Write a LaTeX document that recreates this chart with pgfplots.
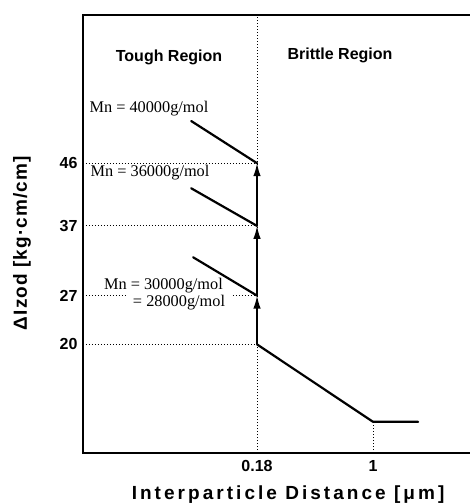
\documentclass[border=0pt]{standalone}
\usepackage{fontspec}
\setmainfont{Liberation Serif}
\setsansfont{Liberation Sans}
\usepackage{pgfplots}
\pgfplotsset{compat=1.18}
\usetikzlibrary{arrows.meta}

\tikzset{
  curve/.style={line width=2.2pt, line cap=round},
  guide/.style={line width=0.9pt, dash pattern=on 1pt off 2pt},
  up/.style={line width=1.5pt, -{Latex[length=13pt,width=7.5pt]}},
  mn/.style={font=\fontsize{16.3}{18}\selectfont},
  bsf/.style={font=\sffamily\bfseries\fontsize{16}{19}\selectfont},
}

\begin{document}
\begin{tikzpicture}
\begin{axis}[
    name=ax,
    scale only axis,
    width=392pt, height=438pt,
    xmode=log,
    xmin=0.01373, xmax=4.52,
    ymin=4.42, ymax=67.26,
    xtick={0.18,1}, xticklabels={0.18,1},
    ytick={20,27,37,46}, yticklabels={20,27,37,46},
    major tick length=0pt,
    tick label style={font=\sffamily\bfseries\fontsize{16}{19}\selectfont},
    xticklabel style={yshift=-4pt},
    yticklabel style={xshift=-2pt},
    axis line style={line width=1.3pt},
    clip=false,
]
% guide lines
\addplot[guide] coordinates {(0.18,4.42) (0.18,67.26)};
\addplot[guide] coordinates {(1,4.42) (1,8.9)};
\addplot[guide] coordinates {(0.01373,46) (0.18,46)};
\addplot[guide] coordinates {(0.01373,37) (0.18,37)};
\addplot[guide] coordinates {(0.01373,20) (0.18,20)};
\addplot[guide] coordinates {(0.01373,27) (0.0263,27)};
\addplot[guide] coordinates {(0.126,27) (0.18,27)};

% brittle branch
\addplot[curve, line join=round] coordinates {(0.18,20) (1,8.9) (1.95,8.9)};

% molecular weight branches
\addplot[curve] coordinates {(0.068,52.05) (0.18,46)};
\addplot[curve] coordinates {(0.068,42.4) (0.18,37)};
\addplot[curve] coordinates {(0.070,32.5) (0.18,27)};

% upward shifts
\addplot[up] coordinates {(0.18,20) (0.18,27)};
\addplot[up] coordinates {(0.18,27) (0.18,37)};
\addplot[up] coordinates {(0.18,37) (0.18,46)};

\node[mn] at (axis cs:0.0364,53.9) {Mn = 40000g/mol};
\node[mn] at (axis cs:0.037,44.59) {Mn = 36000g/mol};
\node[mn] at (axis cs:0.0451,28.38) {Mn = 30000g/mol};
\node[mn] at (axis cs:0.0568,25.94) {= 28000g/mol};

\node[bsf] at (axis cs:0.049,61.23) {Tough Region};
\node[bsf] at (axis cs:0.614,61.5) {Brittle Region};

\node[rotate=90, font=\sffamily\bfseries\fontsize{19}{22}\selectfont\addfontfeature{LetterSpace=6}]
  at (axis cs:0.00558,34.54) {ΔIzod [kg·cm/cm]};
\node[font=\sffamily\bfseries\fontsize{19}{22}\selectfont\addfontfeature{LetterSpace=16}]
  at (axis cs:0.285,-1.61) {Interparticle Distance [μm]};
\end{axis}
\pgfresetboundingbox
\path[use as bounding box] (ax.south west) ++(-83pt,-51pt) rectangle ++(470pt,504pt);
\end{tikzpicture}
\end{document}
